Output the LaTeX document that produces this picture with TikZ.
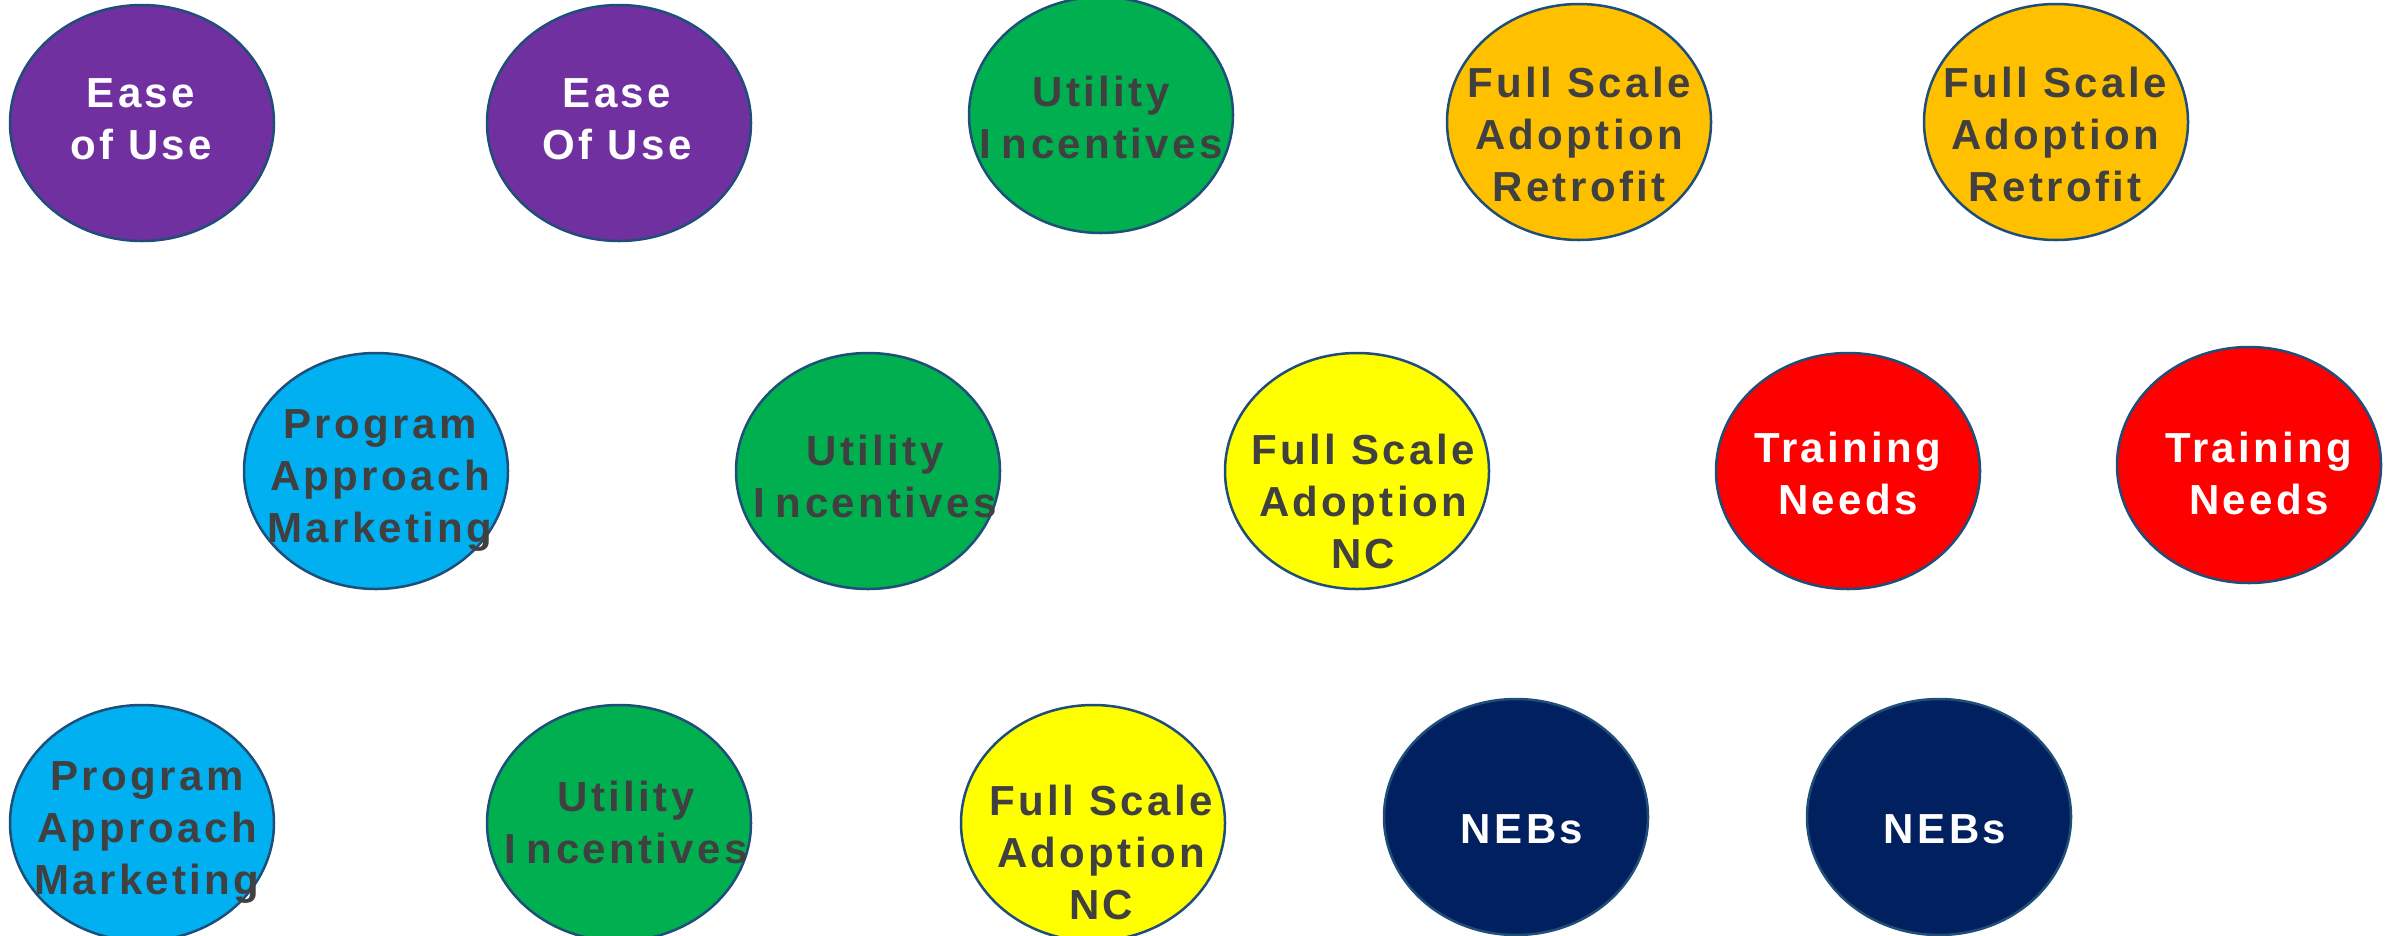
\documentclass[tikz,border=0pt]{standalone}
\usepackage{fontspec}
\usetikzlibrary{shapes.geometric}
\newfontfamily\bubblefont{Liberation Sans}[LetterSpace=8.0]
\definecolor{cPurple}{HTML}{7030A0}
\definecolor{cGreen}{HTML}{00B050}
\definecolor{cGold}{HTML}{FFC000}
\definecolor{cCyan}{HTML}{00B0F0}
\definecolor{cYellow}{HTML}{FFFF00}
\definecolor{cRed}{HTML}{FF0000}
\definecolor{cNavy}{HTML}{002060}
\definecolor{cEdge}{HTML}{1F4E79}
\definecolor{cText}{HTML}{404040}
\newcommand{\blines}[1]{\begin{tabular}{@{}c@{}}#1\end{tabular}}
\tikzset{
  bubble/.style={ellipse, draw=cEdge, line width=2.5pt, minimum width=264pt, minimum height=236pt, inner sep=0pt},
  txt/.style={inner sep=0pt, anchor=center, font=\bubblefont\bfseries\fontsize{42}{52}\selectfont},
  darktxt/.style={txt, text=cText},
  whitetxt/.style={txt, text=white}
}
\begin{document}
\begin{tikzpicture}[x=1pt,y=-1pt]
\useasboundingbox (0,0) rectangle (2387,935);
% row 1
\node[bubble, fill=cPurple] (b1) at (142,123) {};
\node[whitetxt] (t1) at (141,122.6) {\blines{Ease\\of Use}};
\node[bubble, fill=cPurple] (b2) at (619,123) {};
\node[whitetxt] (t2) at (617,122.6) {\blines{Ease\\Of Use}};
\node[bubble, fill=cGreen] (b3) at (1101,115) {};
\node[darktxt] (t3) at (1101,121.6) {\blines{Utility\\I\kern11pt ncentives}};
\node[bubble, fill=cGold] (b4) at (1579,122) {};
\node[darktxt] (t4) at (1579,138.6) {\blines{Full Scale\\Adoption\\Retrofit}};
\node[bubble, fill=cGold] (b5) at (2056,122) {};
\node[darktxt] (t5) at (2055,138.6) {\blines{Full Scale\\Adoption\\Retrofit}};
% row 2
\node[bubble, fill=cCyan] (b6) at (376,471) {};
\node[darktxt] (t6) at (380,479.6) {\blines{Program\\Approach\\Marketing}};
\node[bubble, fill=cGreen] (b7) at (868,471) {};
\node[darktxt] (t7) at (875,480.6) {\blines{Utility\\I\kern11pt ncentives}};
\node[bubble, fill=cYellow] (b8) at (1357,471) {};
\node[darktxt] (t8) at (1363,505.6) {\blines{Full Scale\\Adoption\\NC}};
\node[bubble, fill=cRed] (b9) at (1848,471) {};
\node[whitetxt] (t9) at (1848,477.6) {\blines{Training\\Needs}};
\node[bubble, fill=cRed] (b10) at (2249,465) {};
\node[whitetxt] (t10) at (2259,477.6) {\blines{Training\\Needs}};
% row 3
\node[bubble, fill=cCyan] (b11) at (142,823) {};
\node[darktxt] (t11) at (147,831.6) {\blines{Program\\Approach\\Marketing}};
\node[bubble, fill=cGreen] (b12) at (619,823) {};
\node[darktxt] (t12) at (626,826.6) {\blines{Utility\\I\kern11pt ncentives}};
\node[bubble, fill=cYellow] (b13) at (1093,823) {};
\node[darktxt] (t13) at (1101,856.6) {\blines{Full Scale\\Adoption\\NC}};
\node[bubble, fill=cNavy] (b14) at (1516,817) {};
\node[whitetxt] (t14) at (1522,832.6) {\blines{NEBs}};
\node[bubble, fill=cNavy] (b15) at (1939,817) {};
\node[whitetxt] (t15) at (1945,832.6) {\blines{NEBs}};
\end{tikzpicture}
\end{document}
